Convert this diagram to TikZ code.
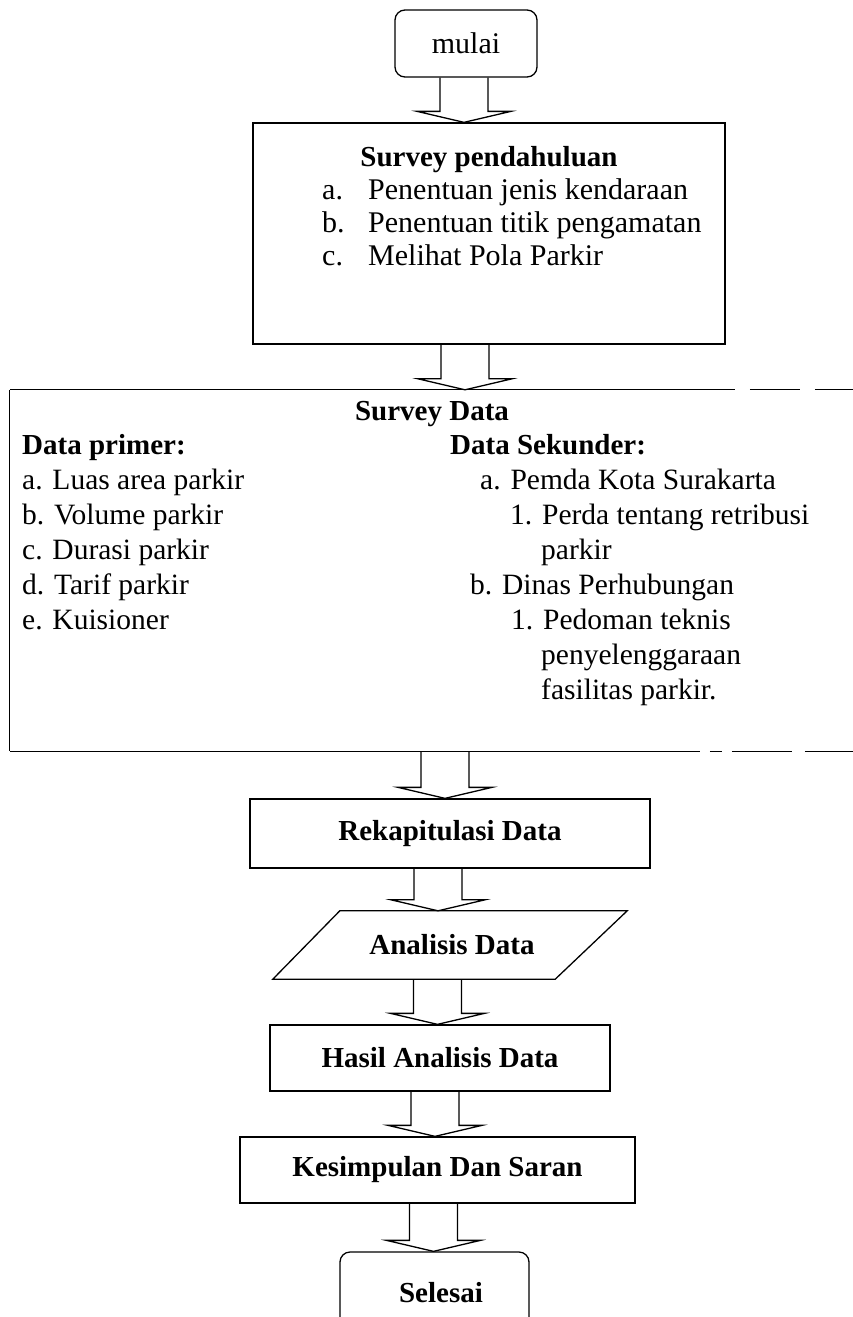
\documentclass[tikz,border=0pt]{standalone}
\usepackage{fontspec}
\setmainfont{Liberation Serif}
\usetikzlibrary{calc}
\newcommand\barrow[3]{%
  \draw[blk] let \p1=($(#1)+(#3,0)$), \p2=(#2) in
    (\x1-24pt,\y1) -- (\x1-24pt,\y2+11pt) -- (\x1-47pt,\y2+11pt) -- (\x1,\y2)
    -- (\x1+47pt,\y2+11pt) -- (\x1+24pt,\y2+11pt) -- (\x1+24pt,\y1);}
\begin{document}
\begin{tikzpicture}[x=1pt,y=-1pt,
  edge/.style={line width=1.3pt},
  box/.style={draw, line width=1.3pt, rectangle, inner sep=0pt},
  rbox/.style={box, rounded corners=10pt},
  big/.style={font=\fontsize{30}{35}\selectfont},
  bigb/.style={font=\fontsize{29}{35}\selectfont\bfseries},
  txt/.style={font=\fontsize{29.5}{35}\selectfont, inner sep=0pt, anchor=base west},
  btxt/.style={font=\fontsize{29}{35}\selectfont\bfseries, inner sep=0pt, anchor=base west},
  sptxt/.style={big, inner sep=0pt, anchor=base west},
  blk/.style={draw, line width=1.3pt, line join=miter}]
\useasboundingbox (0,0) rectangle (853,1317);
\clip (0,0) rectangle (853,1317);

% start
\node[rbox, big, minimum width=142pt, minimum height=67pt] (mulai) at (466,43.5) {mulai};

% survey pendahuluan
\node[box, minimum width=472pt, minimum height=221pt] (sp) at (489,233.5) {};
\node[bigb, inner sep=0pt, anchor=base] (spt) at (489,166) {Survey pendahuluan};
\node[sptxt] (spa) at (322,199) {a.};
\node[sptxt] (spat) at (368,199) {Penentuan jenis kendaraan};
\node[sptxt] (spb) at (322,232) {b.};
\node[sptxt] (spbt) at (368,232) {Penentuan titik pengamatan};
\node[sptxt] (spc) at (322,265) {c.};
\node[sptxt] (spct) at (368,265) {Melihat Pola Parkir};

% survey data
\node[minimum width=843pt, minimum height=361pt, inner sep=0pt] (sd) at (431.5,570.5) {};
\draw[edge] (sd.north west) -- (sd.south west);
\draw[edge] (sd.north west) -- ($(sd.north west)+(725,0)$) coordinate (sdt1);
\draw[edge] ($(sd.north west)+(740,0)$) coordinate (sdt2) -- ($(sd.north west)+(790,0)$) coordinate (sdt3);
\draw[edge] ($(sd.north west)+(805,0)$) coordinate (sdt4) -- (sd.north east);
\draw[edge] (sd.south west) -- ($(sd.south west)+(690,0)$) coordinate (sdb1);
\draw[edge] ($(sd.south west)+(700,0)$) coordinate (sdb2) -- ($(sd.south west)+(712,0)$) coordinate (sdb3);
\draw[edge] ($(sd.south west)+(722,0)$) coordinate (sdb4) -- ($(sd.south west)+(782,0)$) coordinate (sdb5);
\draw[edge] ($(sd.south west)+(795,0)$) coordinate (sdb6) -- (sd.south east);

\node[btxt, anchor=base] (sdt) at (432,420) {Survey Data};
\node[btxt] (dp) at (22,454) {Data primer:};
\node[txt] (dpa) at (22,489) {a. Luas area parkir};
\node[txt] (dpb) at (22,524) {b. Volume parkir};
\node[txt] (dpc) at (22,559) {c. Durasi parkir};
\node[txt] (dpd) at (22,594) {d. Tarif parkir};
\node[txt] (dpe) at (22,629) {e. Kuisioner};
\node[btxt] (ds) at (450,454) {Data Sekunder:};
\node[txt] (dsa) at (480,489) {a. Pemda Kota Surakarta};
\node[txt] (dsa1) at (510,524) {1. Perda tentang retribusi};
\node[txt] (dsa1b) at (541,559) {parkir};
\node[txt] (dsb) at (470,594) {b. Dinas Perhubungan};
\node[txt] (dsb1) at (511,629) {1. Pedoman teknis};
\node[txt] (dsb1b) at (541,664) {penyelenggaraan};
\node[txt] (dsb1c) at (541,699) {fasilitas parkir.};

% lower chain
\node[box, bigb, minimum width=400pt, minimum height=69pt] (rek) at (450,833.5) {Rekapitulasi Data};
\node[inner sep=0pt, minimum width=354pt, minimum height=68pt] (an) at (450,945) {};
\draw[edge] ($(an.north west)+(67,0)$) -- (an.north east) -- ($(an.south east)+(-72,0)$) -- (an.south west) -- cycle;
\node[bigb, inner sep=0pt] (ant) at (452,945) {Analisis Data};
\node[box, bigb, minimum width=340pt, minimum height=66pt] (has) at (440,1058) {Hasil Analisis Data};
\node[box, bigb, minimum width=395pt, minimum height=66pt] (kes) at (437.5,1170) {Kesimpulan Dan Saran};
\node[rbox, minimum width=189pt, minimum height=88pt] (sel) at (434.5,1296) {};
\node[bigb, inner sep=0pt] (selt) at (441,1293) {Selesai};

% block arrows
\barrow{mulai.south}{sp.north}{-2}
\barrow{sp.south}{sd.north}{-24}
\barrow{sd.south}{rek.north}{13.5}
\barrow{rek.south}{an.north}{-12}
\barrow{an.south}{has.north}{-12.5}
\barrow{has.south}{kes.north}{-5}
\barrow{kes.south}{sel.north}{-4}
\end{tikzpicture}
\end{document}
